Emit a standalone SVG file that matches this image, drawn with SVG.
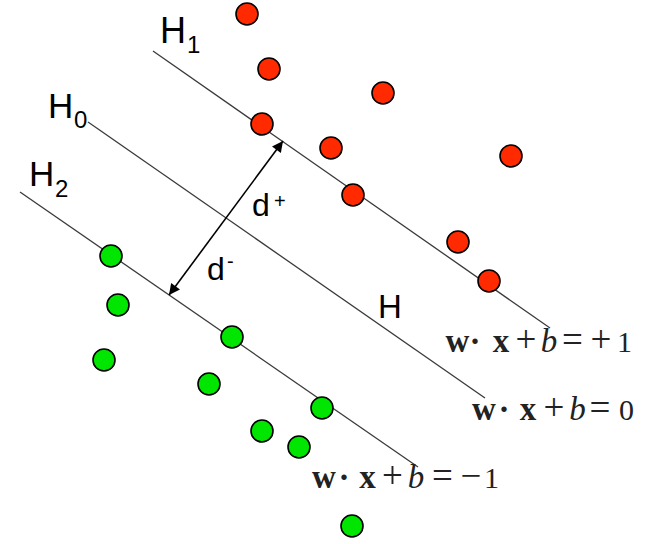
<svg xmlns="http://www.w3.org/2000/svg" width="645" height="544" viewBox="0 0 645 544">
  <style>
    .hl { stroke: #3a3a3a; stroke-width: 1.3; fill: none; }
    .red { fill: #ff2a00; stroke: #000; stroke-width: 1.6; }
    .grn { fill: #00e600; stroke: #000; stroke-width: 1.6; }
    .lbl { font-family: "Liberation Sans", Arial, sans-serif; fill: #000; }
    .math { font-family: "Liberation Serif", "Times New Roman", serif; font-size: 33px; fill: #222; text-anchor: middle; }
    .bold { font-weight: bold; }
    .it { font-style: italic; }
    .op { font-size: 37px; }
    .num { font-size: 30px; }
  </style>
  <defs>
    <marker id="ah" viewBox="0 0 10 10" refX="10" refY="5" markerWidth="14" markerHeight="11" markerUnits="userSpaceOnUse" orient="auto-start-reverse">
      <path d="M0,0 L10,5 L0,10 Z" fill="#000"/>
    </marker>
  </defs>
  <rect width="645" height="544" fill="#fff"/>

  <g id="connectors">
    <line id="H1-line" class="hl" x1="153" y1="51" x2="550" y2="328"/>
    <line id="H0-line" class="hl" x1="88" y1="122" x2="485" y2="398"/>
    <line id="H2-line" class="hl" x1="20" y1="192" x2="418" y2="467"/>
    <line id="margin-arrow" x1="169" y1="295" x2="283" y2="141" stroke="#000" stroke-width="1.6" marker-start="url(#ah)" marker-end="url(#ah)"/>
  </g>

  <g id="red-points">
    <circle class="red" cx="247" cy="14" r="11"/>
    <circle class="red" cx="269" cy="69" r="11"/>
    <circle class="red" cx="262" cy="124" r="11"/>
    <circle class="red" cx="383" cy="93" r="11"/>
    <circle class="red" cx="331" cy="148" r="11"/>
    <circle class="red" cx="511" cy="156" r="11"/>
    <circle class="red" cx="353" cy="195" r="11"/>
    <circle class="red" cx="458" cy="242" r="11"/>
    <circle class="red" cx="489" cy="281" r="11"/>
  </g>

  <g id="green-points">
    <circle class="grn" cx="111" cy="256" r="11"/>
    <circle class="grn" cx="118" cy="305" r="11"/>
    <circle class="grn" cx="104" cy="360" r="11"/>
    <circle class="grn" cx="232" cy="337" r="11"/>
    <circle class="grn" cx="209" cy="384" r="11"/>
    <circle class="grn" cx="262" cy="431" r="11"/>
    <circle class="grn" cx="299" cy="447" r="11"/>
    <circle class="grn" cx="322" cy="408" r="11"/>
    <circle class="grn" cx="352" cy="526" r="11"/>
  </g>

  <g id="label-H1">
    <text class="lbl" x="160" y="43" font-size="36">H</text>
    <text class="lbl" x="187" y="53" font-size="24">1</text>
  </g>
  <g id="label-H0">
    <text class="lbl" x="48" y="118" font-size="35">H</text>
    <text class="lbl" x="74" y="128" font-size="24">0</text>
  </g>
  <g id="label-H2">
    <text class="lbl" x="29" y="186" font-size="35">H</text>
    <text class="lbl" x="55" y="197" font-size="24">2</text>
  </g>
  <g id="label-dplus">
    <text class="lbl" x="252" y="216" font-size="32">d</text>
    <text class="lbl" x="274" y="208" font-size="20">+</text>
  </g>
  <g id="label-dminus">
    <text class="lbl" x="207" y="280" font-size="32">d</text>
    <text class="lbl" x="227" y="268" font-size="20">-</text>
  </g>
  <g id="label-H">
    <text class="lbl" x="378" y="318" font-size="33">H</text>
  </g>

  <g id="eq-plus1">
    <text class="math" y="352"><tspan class="bold" x="457.5">w</tspan><tspan class="bold" x="475">·</tspan><tspan class="bold" x="501">x</tspan><tspan class="op" x="526">+</tspan><tspan class="it" x="549">b</tspan><tspan class="op" x="572.5">=</tspan><tspan class="op" x="601">+</tspan><tspan class="num" x="624.5">1</tspan></text>
  </g>
  <g id="eq-zero">
    <text class="math" y="420"><tspan class="bold" x="484">w</tspan><tspan class="bold" x="504">·</tspan><tspan class="bold" x="528">x</tspan><tspan class="op" x="554">+</tspan><tspan class="it" x="577.5">b</tspan><tspan class="op" x="600">=</tspan><tspan class="num" x="626.5">0</tspan></text>
  </g>
  <g id="eq-minus1">
    <text class="math" y="488"><tspan class="bold" x="324">w</tspan><tspan class="bold" x="344">·</tspan><tspan class="bold" x="367.5">x</tspan><tspan class="op" x="392.5">+</tspan><tspan class="it" x="416">b</tspan><tspan class="op" x="442.5">=</tspan><tspan class="op" x="471">−</tspan><tspan class="num" x="491.5">1</tspan></text>
  </g>
</svg>
